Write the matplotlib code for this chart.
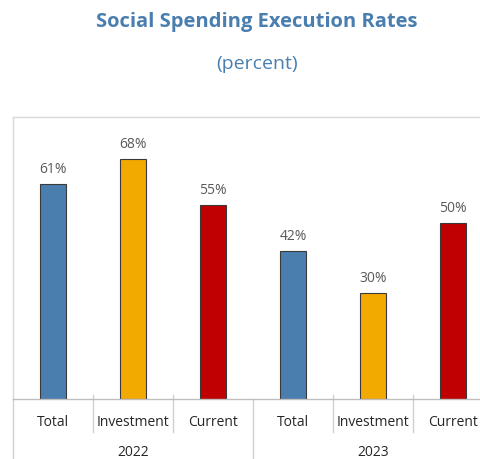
import matplotlib
matplotlib.use("Agg")
import matplotlib.pyplot as plt
import matplotlib.transforms as mtransforms

plt.rcParams['font.family'] = ['Open Sans', 'DejaVu Sans']

years = ["2022", "2023"]
categories = ["Total", "Investment", "Current"]
values = [61, 68, 55, 42, 30, 50]
colors = ["#4A7EAF", "#F2A900", "#C00000"]

W, H = 480, 459
fig = plt.figure(figsize=(W / 100, H / 100), dpi=100)
ax_left, ax_bottom, ax_w, ax_h = 13, 60, 480, 282
ax = fig.add_axes([ax_left / W, ax_bottom / H, ax_w / W, ax_h / H])

n = len(years) * len(categories)
xs = list(range(n))
bar_colors = [colors[i % len(categories)] for i in range(n)]
ax.bar(xs, values, width=0.33, color=bar_colors, edgecolor="#3a3a3a", linewidth=0.8, zorder=3)

for x, v in zip(xs, values):
    ax.annotate(f"{v}%", (x, v), xytext=(0, 5), textcoords="offset points",
                ha="center", va="bottom", fontsize=10, color="#595959")

ax.set_xlim(-0.5, n - 0.5)
ax.set_ylim(0, 80)
ax.set_xticks([])
ax.set_yticks([])
for s in ["right", "bottom"]:
    ax.spines[s].set_visible(False)
for s in ["top", "left"]:
    ax.spines[s].set_color("#D9D9D9")
    ax.spines[s].set_linewidth(1.0)

trans = mtransforms.blended_transform_factory(ax.transData, ax.transAxes)
px = 1 / ax_h
line_col = "#D0D0D0"
# baseline
ax.plot([-0.5, n - 0.5], [0, 0], transform=trans, color="#BFBFBF", lw=1.0, clip_on=False, zorder=4)
# separators between categories and groups
for b in range(n):
    xb = b - 0.5
    if b % len(categories) == 0:
        ax.plot([xb, xb], [0, -60 * px], transform=trans, color=line_col, lw=1.0, clip_on=False)
    else:
        ax.plot([xb, xb], [4 * px, -33 * px], transform=trans, color=line_col, lw=1.0, clip_on=False)

for i, x in enumerate(xs):
    ax.text(x, -23 * px, categories[i % len(categories)], transform=trans,
            ha="center", va="center", fontsize=10, color="#262626")
for g, yr in enumerate(years):
    cx = g * len(categories) + (len(categories) - 1) / 2
    ax.text(cx, -53 * px, yr, transform=trans, ha="center", va="center",
            fontsize=10, color="#262626")

fig.text(257 / W, 1 - 22 / H, "Social Spending Execution Rates", ha="center", va="center",
         fontsize=14.5, fontweight="bold", color="#4A7EAF")
fig.text(257 / W, 1 - 64 / H, "(percent)", ha="center", va="center",
         fontsize=14, color="#4A7EAF")

fig.savefig("out.png", dpi=100)
